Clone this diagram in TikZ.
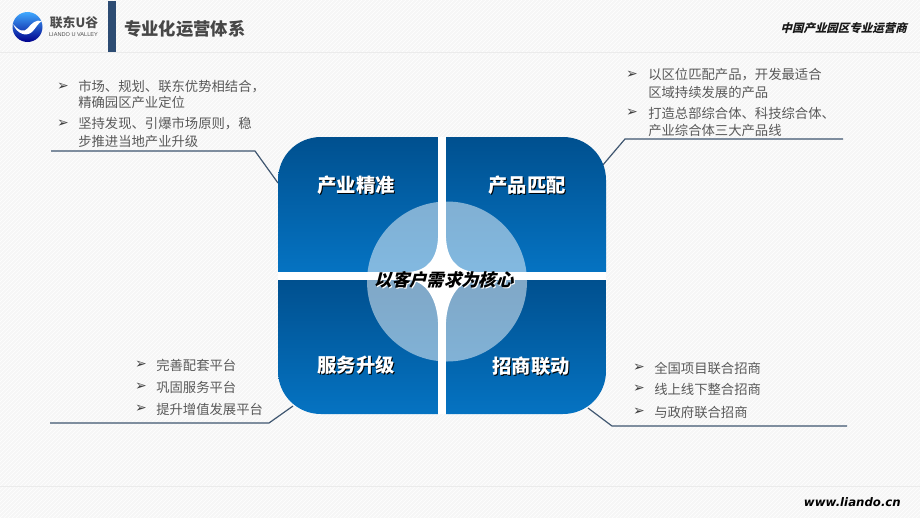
\documentclass[tikz,border=0pt]{standalone}
\usepackage{fontspec}
\usetikzlibrary{patterns}
\setmainfont{Liberation Sans}
\newfontfamily\cjk{Noto Sans CJK SC}
\newfontfamily\cjks[FakeSlant=0.25]{Noto Sans CJK SC}
\newfontfamily\bul{DejaVu Sans}
\definecolor{bgc}{HTML}{F6F6F6}
\definecolor{txtc}{HTML}{595959}
\definecolor{linec}{HTML}{3F5670}
\definecolor{bartop}{HTML}{2D4C73}
\definecolor{ptop}{HTML}{00508F}
\definecolor{pbot}{HTML}{0573C2}
\tikzset{
  x=0.75pt,y=-0.75pt,
  bodytxt/.style={anchor=west,inner sep=0pt,text=txtc,font=\cjk\fontsize{10}{11}\selectfont},
  bulletmark/.style={inner sep=0pt,text=txtc!70!black,font=\bul\fontsize{10.5}{11}\selectfont},
  leader/.style={draw=linec,line width=0.9pt},
  paneltitle/.style={inner sep=0pt,text=white,font=\cjk\bfseries\fontsize{14.5}{16}\selectfont},
  titleshadow/.style={inner sep=0pt,text=black,font=\cjk\bfseries\fontsize{14.5}{16}\selectfont},
  centertxt/.style={inner sep=0pt,font=\cjks\bfseries\fontsize{13}{15}\selectfont},
  hairline/.style={draw=black!8,line width=0.6pt},
}
\begin{document}
\begin{tikzpicture}
\useasboundingbox (0,0) rectangle (920,518);
% background
\fill[bgc] (0,0) rectangle (920,518);
\fill[pattern=north east lines,pattern color=white] (0,0) rectangle (920,518);
\draw[hairline] (0,52) -- (920,52);
\draw[hairline] (0,486) -- (920,486);
% header
\fill[bartop] (108,1) rectangle (116,52);
\shade[top color=cyan!55!blue!75,bottom color=blue!55!black] (27.5,27) circle (15);
\fill[white] (13,24) .. controls (19,31) and (24,33) .. (28,28)
  .. controls (31,24) and (36,19) .. (42,21)
  .. controls (38,23) and (36,28) .. (32,32)
  .. controls (26,37) and (17,34) .. (13,24) -- cycle;
\node[inner sep=0pt,text=black!70,font=\cjk\bfseries\fontsize{9.6}{11}\selectfont] (logotxt) at (74,23) {联东U谷};
\node[inner sep=0pt,text=black!70,font=\fontsize{4.2}{5}\selectfont] (logosub) at (73.5,34.5) {LIANDO U VALLEY};
\node[anchor=west,inner sep=0pt,text=black!72,font=\cjk\bfseries\fontsize{13}{15}\selectfont] (pagetitle) at (124,29) {专业化运营体系};
\node[anchor=east,inner sep=0pt,text=black!90,font=\cjks\bfseries\fontsize{8.6}{10}\selectfont] (slogan) at (907,28) {中国产业园区专业运营商};
\node[anchor=east,inner sep=0pt,text=black,font=\bul\bfseries\itshape\fontsize{8.8}{11}\selectfont] (web) at (901,502) {www.liando.cn};
% leader coordinates
\coordinate (la) at (51,151); \coordinate (lb) at (255,151); \coordinate (lc) at (278,183);
\coordinate (ra) at (843,139); \coordinate (rb) at (625,139); \coordinate (rc) at (602,166);
\coordinate (ma) at (50,423); \coordinate (mb) at (269,423); \coordinate (mc) at (293,406);
\coordinate (na) at (847,426); \coordinate (nb) at (612,426); \coordinate (nc) at (588,408);
\draw[leader] (la) -- (lb) -- (lc);
\draw[leader] (ra) -- (rb) -- (rc);
\draw[leader] (ma) -- (mb) -- (mc);
\draw[leader] (na) -- (nb) -- (nc);
% panels
\shade[top color=ptop,bottom color=pbot] (438,137) -- (438,272) -- (278,272) -- (278,180) .. controls (278,156) and (297,137) .. (321,137) -- cycle;
\shade[top color=ptop,bottom color=pbot] (446,137) -- (563,137) .. controls (587,137) and (606,156) .. (606,180) -- (606,272) -- (446,272) -- cycle;
\shade[top color=ptop,bottom color=pbot] (438,280) -- (438,414) -- (321,414) .. controls (297,414) and (278,395) .. (278,371) -- (278,280) -- cycle;
\shade[top color=ptop,bottom color=pbot] (446,280) -- (606,280) -- (606,371) .. controls (606,395) and (587,414) .. (563,414) -- (446,414) -- cycle;
% centre disc, only over the panels
\begin{scope}
\clip (447,281.5) circle (80);
\fill[white,opacity=0.5] (278,137) rectangle (438,272);
\fill[white,opacity=0.5] (446,137) rectangle (606,272);
\fill[white,opacity=0.5] (278,280) rectangle (438,414);
\fill[white,opacity=0.5] (446,280) rectangle (606,414);
\end{scope}
% star-shaped white centre
\fill[white] (439,273) -- (439,236) -- (438,238) .. controls (437,258) and (428,271) .. (408,272) -- (408,273) -- cycle;
\fill[white] (445,273) -- (445,236) -- (446,238) .. controls (447,258) and (456,271) .. (476,272) -- (476,273) -- cycle;
\fill[white] (439,279) -- (439,324) -- (438,322) .. controls (437,302) and (428,281) .. (408,280) -- (408,279) -- cycle;
\fill[white] (445,279) -- (445,324) -- (446,322) .. controls (447,302) and (456,281) .. (476,280) -- (476,279) -- cycle;
% gaps, white from end to end
\fill[white] (438,137) rectangle (446,414);
\fill[white] (278,272) rectangle (606,280);
% panel titles
\node[titleshadow] (s1) at (357,186) {产业精准};
\node[paneltitle] (t1) at (356,185) {产业精准};
\node[titleshadow] (s2) at (528,186) {产品匹配};
\node[paneltitle] (t2) at (527,185) {产品匹配};
\node[titleshadow] (s3) at (357,366) {服务升级};
\node[paneltitle] (t3) at (356,365) {服务升级};
\node[titleshadow] (s4) at (532,367) {招商联动};
\node[paneltitle] (t4) at (531,366) {招商联动};
\node[centertxt,text=white] (cs) at (445,281) {以客户需求为核心};
\node[centertxt,text=black] (ct) at (444,280) {以客户需求为核心};
% top-left text
\node[bulletmark] (a1) at (63,87) {➢};
\node[bodytxt] (a2) at (78,87) {市场、规划、联东优势相结合，};
\node[bodytxt] (a3) at (78,102) {精确园区产业定位};
\node[bulletmark] (a4) at (63,124) {➢};
\node[bodytxt] (a5) at (78,124) {坚持发现、引爆市场原则，稳};
\node[bodytxt] (a6) at (78,141) {步推进当地产业升级};
% top-right text
\node[bulletmark] (b1) at (632,75) {➢};
\node[bodytxt] (b2) at (648,75) {以区位匹配产品，开发最适合};
\node[bodytxt] (b3) at (648,92) {区域持续发展的产品};
\node[bulletmark] (b4) at (632,113) {➢};
\node[bodytxt] (b5) at (648,113) {打造总部综合体、科技综合体、};
\node[bodytxt] (b6) at (648,130) {产业综合体三大产品线};
% bottom-left text
\node[bulletmark] (c1) at (141,365) {➢};
\node[bodytxt] (c2) at (156,365) {完善配套平台};
\node[bulletmark] (c3) at (141,387) {➢};
\node[bodytxt] (c4) at (156,387) {巩固服务平台};
\node[bulletmark] (c5) at (141,409) {➢};
\node[bodytxt] (c6) at (156,409) {提升增值发展平台};
% bottom-right text
\node[bulletmark] (d1) at (639,368) {➢};
\node[bodytxt] (d2) at (654,368) {全国项目联合招商};
\node[bulletmark] (d3) at (639,389) {➢};
\node[bodytxt] (d4) at (654,389) {线上线下整合招商};
\node[bulletmark] (d5) at (639,412) {➢};
\node[bodytxt] (d6) at (654,412) {与政府联合招商};
\end{tikzpicture}
\end{document}
